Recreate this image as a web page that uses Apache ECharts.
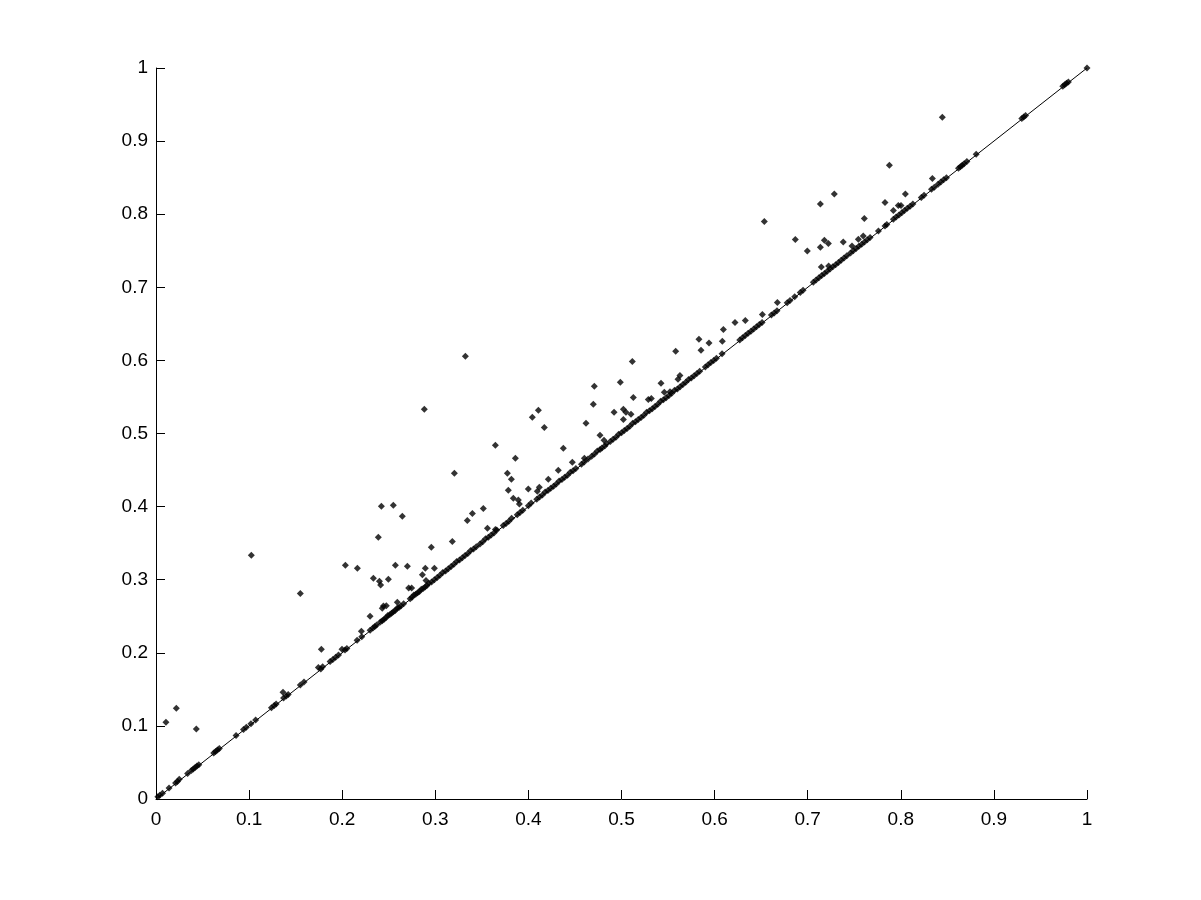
<!DOCTYPE html>
<html>
<head>
<meta charset="utf-8">
<script src="https://cdn.jsdelivr.net/npm/echarts@6/dist/echarts.min.js"></script>
<style>
html,body{margin:0;padding:0;background:#fff;}
#chart{width:1201px;height:900px;}
</style>
</head>
<body>
<div id="chart"></div>
<script>
// Tick values for both axes
const tickValues = [0, 0.1, 0.2, 0.3, 0.4, 0.5, 0.6, 0.7, 0.8, 0.9, 1];

// Reference diagonal line endpoints
const diagonalLine = [[0, 0], [1, 1]];

// Points lying on (or just above) the diagonal
const nearDiagonal = [
[0.002,0.003],[0.004,0.005],[0.007,0.008],[0.014,0.015],[0.021,0.022],[0.023,0.024],[0.025,0.027],[0.034,0.035],[0.038,0.039],[0.040,0.041],[0.042,0.043],[0.044,0.045],[0.046,0.047],[0.062,0.063],[0.064,0.065],[0.066,0.067],[0.068,0.069],
[0.086,0.087],[0.094,0.095],[0.097,0.098],[0.102,0.103],[0.107,0.108],[0.124,0.125],[0.127,0.128],[0.129,0.130],[0.137,0.138],[0.140,0.141],[0.142,0.143],[0.155,0.156],[0.159,0.160],
[0.177,0.178],[0.179,0.181],[0.187,0.188],[0.190,0.191],[0.193,0.194],[0.196,0.197],[0.203,0.204],[0.205,0.206],[0.216,0.217],[0.221,0.222],[0.230,0.231],[0.233,0.234],[0.235,0.236],[0.237,0.238],
[0.241,0.242],[0.243,0.244],[0.245,0.246],[0.247,0.248],[0.249,0.251],[0.251,0.252],[0.253,0.254],[0.255,0.256],[0.257,0.258],[0.259,0.261],[0.261,0.262],[0.263,0.264],[0.266,0.267],[0.273,0.274],[0.275,0.276],[0.277,0.279],[0.279,0.280],[0.281,0.282],[0.283,0.284],[0.285,0.287],[0.287,0.288],[0.289,0.290],[0.291,0.292],[0.293,0.295],[0.296,0.297],[0.299,0.300],[0.302,0.303],[0.305,0.306],[0.308,0.310],[0.311,0.312],[0.314,0.315],[0.317,0.318],[0.320,0.321],[0.323,0.325],[0.326,0.327],
[0.329,0.330],[0.332,0.333],[0.335,0.336],[0.338,0.340],[0.341,0.342],[0.344,0.345],
[0.348,0.349],[0.351,0.352],[0.354,0.356],[0.357,0.358],[0.360,0.361],[0.363,0.364],[0.366,0.368],
[0.373,0.374],[0.376,0.377],[0.379,0.380],[0.382,0.384],[0.388,0.389],[0.391,0.392],[0.394,0.395],[0.400,0.401],[0.403,0.405],
[0.409,0.410],[0.412,0.413],[0.415,0.416],[0.418,0.420],[0.421,0.422],[0.424,0.425],[0.427,0.428],[0.430,0.431],[0.433,0.435],[0.436,0.437],[0.439,0.440],[0.442,0.443],[0.445,0.447],[0.448,0.449],[0.451,0.452],
[0.457,0.458],[0.460,0.461],[0.464,0.465],[0.468,0.469],[0.471,0.472],[0.474,0.476],[0.477,0.478],[0.479,0.480],[0.482,0.483],[0.484,0.486],
[0.488,0.489],[0.491,0.492],[0.494,0.495],[0.497,0.499],[0.500,0.501],[0.503,0.504],[0.506,0.507],[0.509,0.510],[0.512,0.514],[0.515,0.516],[0.518,0.519],[0.521,0.522],[0.524,0.525],[0.527,0.529],[0.530,0.531],[0.533,0.534],[0.536,0.537],[0.539,0.540],[0.542,0.544],[0.545,0.546],[0.548,0.549],[0.551,0.552],[0.554,0.555],[0.557,0.559],[0.560,0.561],[0.563,0.564],[0.566,0.567],[0.569,0.570],[0.572,0.574],[0.575,0.576],
[0.578,0.579],[0.581,0.582],[0.584,0.585],[0.590,0.591],[0.593,0.594],[0.596,0.597],[0.599,0.600],[0.602,0.603],[0.608,0.609],
[0.627,0.628],[0.630,0.631],[0.633,0.634],[0.636,0.637],[0.639,0.640],[0.642,0.643],[0.645,0.646],[0.648,0.649],[0.651,0.652],
[0.661,0.662],[0.664,0.665],[0.667,0.668],[0.678,0.679],[0.681,0.682],[0.686,0.687],[0.692,0.693],[0.695,0.696],
[0.706,0.707],[0.709,0.710],[0.712,0.713],[0.715,0.716],[0.718,0.719],[0.721,0.722],[0.724,0.725],[0.727,0.728],[0.730,0.731],[0.733,0.734],[0.736,0.737],[0.739,0.740],[0.742,0.743],
[0.746,0.747],[0.749,0.750],[0.752,0.753],[0.755,0.756],[0.758,0.759],[0.761,0.762],[0.764,0.765],[0.767,0.768],
[0.776,0.777],[0.783,0.784],[0.785,0.786],
[0.792,0.793],[0.795,0.796],[0.798,0.799],[0.801,0.802],[0.804,0.805],[0.807,0.808],[0.810,0.811],[0.813,0.814],
[0.822,0.823],[0.825,0.826],[0.833,0.834],[0.836,0.837],[0.840,0.841],[0.843,0.844],[0.846,0.847],[0.849,0.850],
[0.862,0.863],[0.864,0.865],[0.866,0.867],[0.868,0.869],[0.871,0.872],[0.881,0.882],
[0.930,0.931],[0.932,0.933],[0.934,0.935],[0.974,0.975],[0.976,0.977],[0.978,0.979],[0.980,0.981],[1.0,1.0]
];

// Points clearly above the diagonal
const offDiagonal = [
[0.0107,0.105],[0.0218,0.124],[0.0433,0.0958],[0.1024,0.3333],[0.155,0.281],[0.1364,0.146],[0.1744,0.180],[0.1776,0.2048],[0.1998,0.2048],[0.2034,0.3197],[0.2163,0.3156],[0.2206,0.2294],[0.2299,0.2499],[0.2335,0.302],[0.2388,0.358],[0.2421,0.4004],[0.240,0.298],[0.2413,0.2927],[0.243,0.261],[0.2443,0.264],[0.2474,0.2645],[0.2496,0.3005],[0.2549,0.4017],[0.2571,0.3197],[0.2592,0.2690],[0.2646,0.3867],[0.2700,0.3183],[0.2714,0.2886],[0.2746,0.2886],[0.2861,0.3069],[0.2893,0.3156],[0.290,0.299],[0.2957,0.3443],[0.2990,0.3156],
[0.3323,0.6056],[0.2882,0.5331],[0.3205,0.4455],[0.3645,0.4838],[0.3860,0.4661],[0.3774,0.4455],[0.3817,0.4373],[0.3784,0.4222],[0.3838,0.4113],[0.3892,0.409],[0.3903,0.4036],[0.4042,0.5222],[0.4107,0.5318],[0.4171,0.5082],[0.3999,0.4241],[0.4096,0.4210],[0.4117,0.4263],[0.4214,0.4373],[0.4321,0.4496],[0.4375,0.4798],[0.4472,0.4606],[0.4601,0.4661],[0.4619,0.5140],[0.4697,0.5400],[0.4708,0.5646],[0.4769,0.4976],[0.4812,0.4907],[0.4920,0.5290],[0.4987,0.5700],[0.5020,0.5331],[0.5020,0.5192],[0.5116,0.5985],[0.5127,0.5492],[0.5288,0.5465],[0.5320,0.5480],[0.5102,0.5263],[0.5048,0.5290],[0.3183,0.3523],[0.3344,0.3810],[0.3398,0.3906],[0.3516,0.3974],[0.3560,0.3703],[0.3645,0.3687],
[0.7877,0.8669],[0.8339,0.8490],[0.7286,0.8276],[0.7136,0.8140],[0.8049,0.8276],[0.7830,0.8161],[0.7920,0.8051],[0.7973,0.8119],[0.8002,0.8119],[0.7608,0.7942],[0.6534,0.7901],[0.6867,0.7655],[0.7136,0.7547],[0.7179,0.7642],[0.7222,0.7600],[0.7382,0.7620],[0.6996,0.7497],[0.7146,0.7278],[0.7225,0.7293],[0.7476,0.7565],[0.7544,0.7656],[0.7597,0.7702],[0.5582,0.6124],[0.5424,0.5687],[0.5832,0.6289],[0.5854,0.6138],[0.5940,0.6238],[0.6083,0.6261],[0.6094,0.6423],[0.6219,0.6519],[0.6330,0.6546],[0.6513,0.6628],[0.6674,0.6792],[0.5607,0.5741],[0.5628,0.5794],[0.5460,0.5563],[0.5521,0.5571],[0.8446,0.9325]
];

const chart = echarts.init(document.getElementById('chart'), null, {renderer: 'canvas'});

const axisCommon = {
  type: 'value',
  min: tickValues[0],
  max: tickValues[tickValues.length - 1],
  interval: 0.1,
  axisLine: {show: true, onZero: false, lineStyle: {color: '#000', width: 1}},
  axisTick: {show: true, inside: true, length: 9, lineStyle: {color: '#000', width: 1}},
  splitLine: {show: false},
  axisLabel: {
    color: '#000',
    fontSize: 19,
    fontFamily: 'Liberation Sans, Arial, Helvetica, sans-serif',
    formatter: function (v) { return String(Math.round(v * 10) / 10); }
  }
};

const markerStyle = {color: '#000'};

chart.setOption({
  backgroundColor: '#fff',
  animation: false,
  grid: {left: 156, right: 114, top: 68, bottom: 101, containLabel: false},
  xAxis: Object.assign({}, axisCommon, {
    axisLabel: Object.assign({}, axisCommon.axisLabel, {margin: 11})
  }),
  yAxis: Object.assign({}, axisCommon, {
    axisLabel: Object.assign({}, axisCommon.axisLabel, {margin: 8})
  }),
  series: [
    {
      type: 'line',
      data: diagonalLine,
      symbol: 'none',
      lineStyle: {color: '#000', width: 1},
      silent: true,
      z: 1
    },
    {
      type: 'scatter',
      data: nearDiagonal,
      symbol: 'diamond',
      symbolSize: 7,
      itemStyle: markerStyle,
      z: 2
    },
    {
      type: 'scatter',
      data: offDiagonal,
      symbol: 'diamond',
      symbolSize: 7,
      itemStyle: markerStyle,
      z: 2
    }
  ]
});
</script>
</body>
</html>
